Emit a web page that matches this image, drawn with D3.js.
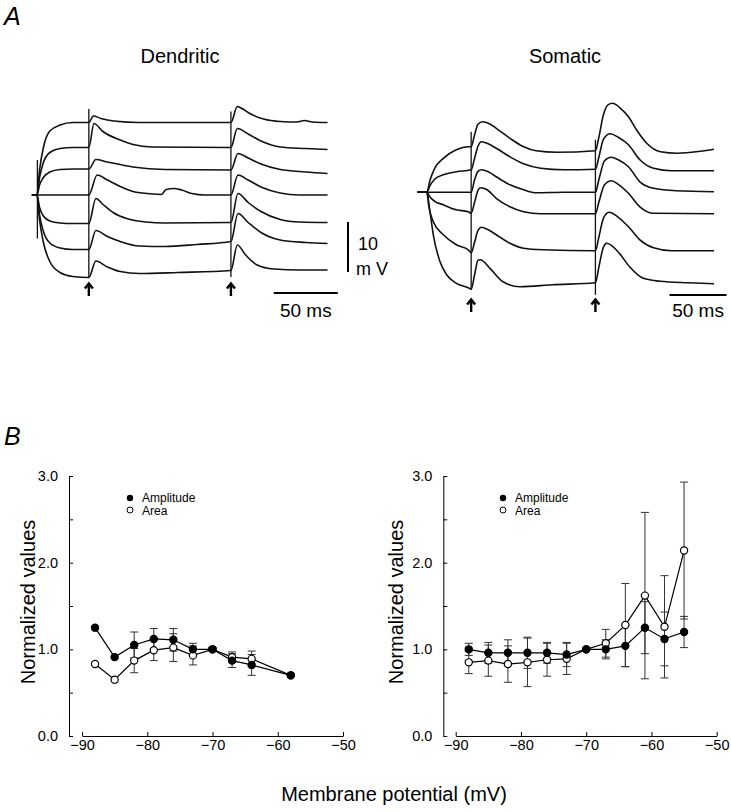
<!DOCTYPE html>
<html>
<head>
<meta charset="utf-8">
<script src="https://cdn.jsdelivr.net/npm/d3@7"></script>
<style>
  body { margin: 0; background: #fff; }
  svg { font-family: 'Liberation Sans', Arial, sans-serif; }
</style>
</head>
<body>
<div id="wrapper"></div>
<script>
// ---- panel A: traces, [time (ms) from pulse onset, mV from rest] ----
const dendriticTraces = [
  [[-4,0],[0,0],[2,5],[5,9.5],[10,12.8],[18,14],[28,14.5],[40.5,14.5],[44,15.8],[50,15.3],[60,14.8],[80,14.5],[110,14.5],[151.5,14.5],[156.5,17.7],[160,17.3],[167,16.2],[177,15.2],[190,14.7],[203,14.6],[209,14.9],[215,14.6],[227,14.5]],
  [[-4,0],[0,0],[2,3.5],[5,6.5],[10,8.5],[18,9.3],[28,9.5],[40.5,9.5],[44.5,14.3],[51.5,12.7],[65,11],[75,10.1],[90,9.6],[151.5,9.5],[156.5,13.3],[165,12.2],[175,10.8],[190,9.6],[210,9.3],[227,9.1]],
  [[-4,0],[0,0],[2,2],[5,3.5],[10,4.6],[18,5.1],[28,5.2],[40.5,5.2],[46,7.1],[55,6.6],[75,5.6],[100,5.1],[151.5,5.0],[157,8.3],[165,7.4],[175,6.2],[190,5.1],[210,4.6],[227,4.3]],
  [[-4,0],[0,0],[40.5,0],[47,4],[55,3],[65,1.7],[75,0.7],[90,0.2],[97,0.1],[101,1.1],[107,1.3],[113,1.0],[121,0.3],[131,0],[151.5,0],[157,4],[165,3],[175,1.6],[190,0.4],[205,0],[227,0]],
  [[-4,0],[0,0],[2,-2.5],[5,-4.2],[10,-5.2],[18,-5.6],[28,-5.7],[40.5,-5.7],[46,-0.7],[52,-2],[60,-3.6],[70,-4.7],[85,-5.4],[100,-5.6],[151.5,-5.5],[157,0.3],[165,-1.5],[175,-3.3],[190,-4.9],[205,-5.4],[227,-5.5]],
  [[-4,0],[0,0],[2,-4],[5,-7.3],[10,-9.6],[18,-10.6],[28,-10.9],[40.5,-10.9],[46,-7.1],[55,-8.3],[65,-9.3],[80,-10.2],[100,-10.3],[125,-9.9],[151.5,-9.3],[157,-3.7],[165,-5.5],[175,-7.5],[190,-9],[210,-9.5],[227,-9.7]],
  [[-4,0],[0,0],[2,-5],[5,-9.5],[10,-13.3],[18,-15.5],[28,-16.3],[40.5,-16.5],[46,-13.2],[55,-14.4],[65,-15.3],[80,-15.7],[110,-15.5],[151.5,-15.1],[156.5,-10],[163,-12],[172,-14],[185,-14.8],[205,-15],[227,-15]]
];

const somaticTraces = [
  [[-8,0],[0,0],[3,2.5],[7,4.8],[14.6,6.8],[26,8.5],[36.5,9.1],[39,9.1],[42,11.5],[45,13.6],[49,14.1],[55,13.7],[61,12.8],[73,10.8],[85,9.1],[96,8.3],[114,8.0],[148,8.3],[151,11],[155,15.5],[159,17.5],[163,17.8],[170,16.8],[177,15.1],[184,12.5],[193,9.8],[205,8.1],[220,7.8],[240,8.2],[252,8.6]],
  [[-8,0],[0,0],[3,1.4],[7,2.6],[14.6,3.5],[26,4.1],[39,4.5],[42,6.8],[45,9.2],[48,10.1],[54,9.7],[61,8.8],[73,7.1],[85,5.7],[100,4.8],[120,4.5],[148,4.6],[151,7],[155,10.6],[161,11.7],[168,11],[177,9.5],[187,6.5],[199,4.8],[215,4.3],[252,4.3]],
  [[-8,0],[0,0],[39,0],[42,2.5],[45,4.2],[48,4.5],[54,4.1],[61,3.1],[73,1.5],[85,0.5],[96,-0.1],[120,0],[148,0],[151,2.5],[156,6.3],[162,7],[168,6.5],[177,5.1],[187,2.1],[199,0.8],[219,0.3],[252,0.1]],
  [[-8,0],[0,0],[3,-1],[7,-1.8],[14.6,-2.5],[26,-3.5],[36.5,-3.9],[39,-4.2],[42,-2],[45,0.4],[47,0.9],[53,0.5],[61,-1.2],[73,-2.9],[85,-3.9],[100,-4.3],[148,-4.3],[151,-2],[156,1.5],[162,2.3],[168,1.6],[177,-0.2],[187,-2.9],[199,-4.2],[252,-4.3]],
  [[-8,0],[0,0],[2,-3],[5.8,-5.9],[14.6,-8.5],[26,-10.5],[36.5,-11.5],[39,-12.1],[42,-10],[45,-7.6],[48,-7],[54,-7.5],[61,-8.5],[73,-10.2],[85,-11.2],[102,-11.5],[148,-11.7],[151,-9],[155,-5.2],[160,-4],[167,-4.8],[177,-6.9],[187,-9.5],[199,-11.1],[215,-11.7],[252,-11.7]],
  [[-8,0],[0,0],[2.9,-3.9],[5.8,-8.5],[11.7,-13.9],[17.5,-16.5],[26,-18.2],[36.5,-19.1],[39,-19.4],[42,-16.5],[45,-13.6],[47,-13.5],[55.5,-15.2],[67,-17.9],[82,-18.9],[110,-18.5],[148,-18.1],[151,-15],[155,-11],[158,-10.2],[163,-10.8],[169,-12.2],[178,-14.9],[190,-17.2],[205,-17.8],[230,-18.1],[252,-18.3]]
];

// stimulus times (ms) and artifact extents [time, top mV, bottom mV]
const dendriticStims = [40.5, 151.5];
const somaticStims = [39, 148];
const dendriticArtifacts = [[0.3, 7, -8.7], [40.5, 17.2, -16.4], [151.5, 16.7, -16.4]];
const somaticArtifacts = [[39, 12.1, -19.5], [148, 10.5, -20.5]];

// ---- panel B: normalized values vs membrane potential ----
const dendriticPotential = [-88, -85, -82, -79, -76, -73, -70, -67, -64, -58];
const dendriticAmplitude = [1.25, 0.91, 1.05, 1.12, 1.11, 1.00, 1.00, 0.87, 0.82, 0.70];
const dendriticAmplitudeErr = [0, 0, 0.15, 0.12, 0.13, 0.07, 0.02, 0.08, 0.12, 0];
const dendriticArea = [0.83, 0.65, 0.87, 0.99, 1.02, 0.93, 1.00, 0.91, 0.89, 0.70];
const dendriticAreaErr = [0, 0, 0.14, 0.12, 0.16, 0.11, 0.02, 0.06, 0.09, 0];

const somaticPotential = [-88, -85, -82, -79, -76, -73, -70, -67, -64, -61, -58, -55];
const somaticAmplitude = [1.00, 0.96, 0.96, 0.96, 0.96, 0.94, 1.00, 1.00, 1.04, 1.25, 1.12, 1.20];
const somaticAmplitudeErr = [0.07, 0.12, 0.15, 0.18, 0.12, 0.14, 0, 0.11, 0.24, 0.30, 0.31, 0.18];
const somaticArea = [0.85, 0.87, 0.83, 0.85, 0.88, 0.89, 1.00, 1.07, 1.28, 1.62, 1.26, 2.14];
const somaticAreaErr = [0.13, 0.18, 0.21, 0.28, 0.19, 0.18, 0, 0.16, 0.48, 0.96, 0.59, 0.79];

const xTickValues = [-90, -80, -70, -60, -50];
const yTickValues = [0, 0.5, 1, 1.5, 2, 2.5, 3];

function drawFigure() {
  const svg = d3.select('#wrapper')
    .append('svg')
      .attr('width', 731)
      .attr('height', 812);

  // panel letters
  svg.append('text').attr('x', 4).attr('y', 25)
      .style('font-size', '25px').style('font-style', 'italic').text('A');
  svg.append('text').attr('x', 4).attr('y', 445)
      .style('font-size', '25px').style('font-style', 'italic').text('B');

  // ---------- traces ----------
  const dendX = d3.scaleLinear().domain([0, 50]).range([37, 101]);
  const dendY = d3.scaleLinear().domain([0, 10]).range([195, 145]);
  const somaX = d3.scaleLinear().domain([0, 50]).range([426.7, 483.7]);
  const somaY = d3.scaleLinear().domain([0, 10]).range([192.3, 142.3]);

  function drawTraces(title, titleX, traces, xScale, yScale, stims, artifacts, arrowY) {
    const g = svg.append('g');

    g.append('text')
        .attr('x', titleX).attr('y', 63)
        .attr('text-anchor', 'middle')
        .style('font-size', '20px')
        .text(title);

    const lineGen = d3.line()
        .x(d => xScale(d[0]))
        .y(d => yScale(d[1]))
        .curve(d3.curveMonotoneX);

    g.selectAll('path.trace')
      .data(traces)
      .join('path')
        .attr('class', 'trace')
        .attr('d', lineGen)
        .attr('fill', 'none')
        .attr('stroke', '#111')
        .attr('stroke-width', 1.6);

    g.selectAll('line.artifact')
      .data(artifacts)
      .join('line')
        .attr('class', 'artifact')
        .attr('x1', d => xScale(d[0])).attr('x2', d => xScale(d[0]))
        .attr('y1', d => yScale(d[1])).attr('y2', d => yScale(d[2]))
        .attr('stroke', '#111')
        .attr('stroke-width', 1.3);

    // arrows under stimulus times
    const arrows = g.selectAll('g.arrow')
      .data(stims)
      .join('g')
        .attr('class', 'arrow')
        .attr('transform', d => `translate(${xScale(d)},${arrowY})`);
    arrows.append('path')
        .attr('d', 'M0,1 L0,13 M-4,5.5 L0,0.5 L4,5.5')
        .attr('fill', 'none')
        .attr('stroke', '#000')
        .attr('stroke-width', 2.4);
  }

  drawTraces('Dendritic', 180, dendriticTraces, dendX, dendY,
    dendriticStims, dendriticArtifacts, 283);
  drawTraces('Somatic', 565, somaticTraces, somaX, somaY,
    somaticStims, somaticArtifacts, 299);

  // scale bars
  const vBarX = 348;
  svg.append('line')
      .attr('x1', vBarX).attr('x2', vBarX)
      .attr('y1', dendY(-5.4)).attr('y2', dendY(-15.4))
      .attr('stroke', '#000').attr('stroke-width', 2);
  svg.append('text').attr('x', 358).attr('y', 250)
      .style('font-size', '18px').text('10');
  svg.append('text').attr('x', 356).attr('y', 275)
      .style('font-size', '18px').text('m V');

  const dendBarStart = 185;
  svg.append('line')
      .attr('x1', dendX(dendBarStart)).attr('x2', dendX(dendBarStart + 50))
      .attr('y1', 293).attr('y2', 293)
      .attr('stroke', '#000').attr('stroke-width', 2);
  svg.append('text')
      .attr('x', (dendX(dendBarStart) + dendX(dendBarStart + 50)) / 2).attr('y', 317)
      .attr('text-anchor', 'middle')
      .style('font-size', '19px').text('50 ms');

  const somaBarStart = 213;
  svg.append('line')
      .attr('x1', somaX(somaBarStart)).attr('x2', somaX(somaBarStart + 50))
      .attr('y1', 295).attr('y2', 295)
      .attr('stroke', '#000').attr('stroke-width', 2);
  svg.append('text')
      .attr('x', (somaX(somaBarStart) + somaX(somaBarStart + 50)) / 2).attr('y', 317)
      .attr('text-anchor', 'middle')
      .style('font-size', '19px').text('50 ms');

  // ---------- summary plots ----------
  const yScale = d3.scaleLinear().domain([0, 3]).range([736, 476]);

  function drawSummary(axisX, x0, potential, amp, ampErr, area, areaErr, legendX, labelX) {
    const xScale = d3.scaleLinear().domain([-90, -50]).range([x0, x0 + 261]);
    const g = svg.append('g');

    const yAxisGenerator = d3.axisLeft(yScale)
        .tickValues(yTickValues)
        .tickSizeInner(-4)
        .tickSizeOuter(0)
        .tickPadding(11)
        .tickFormat(d => Number.isInteger(d) ? d.toFixed(1) : '');
    const yAxis = g.append('g')
        .attr('transform', `translate(${axisX},0)`)
        .call(yAxisGenerator);

    const xAxisGenerator = d3.axisBottom(xScale)
        .tickValues(xTickValues)
        .tickSizeInner(-4)
        .tickSizeOuter(0)
        .tickPadding(4);
    const xAxis = g.append('g')
        .attr('transform', 'translate(0,736)')
        .call(xAxisGenerator);

    [yAxis, xAxis].forEach(ax => {
      ax.selectAll('text')
          .style('font-size', '14.5px')
          .style('font-family', "'Liberation Sans', Arial, sans-serif")
          .attr('fill', '#000');
      ax.selectAll('line, path').attr('stroke', '#000');
    });

    g.append('text')
        .attr('transform', `translate(${labelX},602) rotate(-90)`)
        .attr('text-anchor', 'middle')
        .style('font-size', '20px')
        .text('Normalized values');

    const lineGen = vals => d3.line()
        .x((d, i) => xScale(potential[i]))
        .y(d => yScale(d))(vals);

    const series = [
      { vals: area, err: areaErr, fill: '#fff' },
      { vals: amp, err: ampErr, fill: '#000' }
    ];

    // error bars
    series.forEach(s => {
      const bars = g.append('g')
        .selectAll('g')
        .data(s.vals.map((v, i) => ({ x: potential[i], v, e: s.err[i] })).filter(d => d.e > 0))
        .join('g');
      bars.append('line')
          .attr('x1', d => xScale(d.x)).attr('x2', d => xScale(d.x))
          .attr('y1', d => yScale(d.v - d.e)).attr('y2', d => yScale(d.v + d.e))
          .attr('stroke', '#333').attr('stroke-width', 1);
      [-1, 1].forEach(sign => {
        bars.append('line')
            .attr('x1', d => xScale(d.x) - 4).attr('x2', d => xScale(d.x) + 4)
            .attr('y1', d => yScale(d.v + sign * d.e)).attr('y2', d => yScale(d.v + sign * d.e))
            .attr('stroke', '#333').attr('stroke-width', 1);
      });
    });

    series.forEach(s => {
      g.append('path')
          .attr('d', lineGen(s.vals))
          .attr('fill', 'none')
          .attr('stroke', '#000')
          .attr('stroke-width', 1.2);
    });

    series.forEach(s => {
      g.append('g')
        .selectAll('circle')
        .data(s.vals)
        .join('circle')
          .attr('cx', (d, i) => xScale(potential[i]))
          .attr('cy', d => yScale(d))
          .attr('r', 3.6)
          .attr('fill', s.fill)
          .attr('stroke', '#000')
          .attr('stroke-width', 1.2);
    });

    // legend
    const legend = g.append('g').attr('transform', `translate(${legendX},0)`);
    legend.append('circle').attr('cx', 0).attr('cy', 498).attr('r', 3.2)
        .attr('fill', '#000');
    legend.append('circle').attr('cx', 0).attr('cy', 510).attr('r', 3)
        .attr('fill', '#fff').attr('stroke', '#000').attr('stroke-width', 1);
    legend.append('text').attr('x', 12).attr('y', 502)
        .style('font-size', '12px').text('Amplitude');
    legend.append('text').attr('x', 12).attr('y', 514.5)
        .style('font-size', '12px').text('Area');
  }

  drawSummary(69, 82, dendriticPotential, dendriticAmplitude, dendriticAmplitudeErr,
    dendriticArea, dendriticAreaErr, 130, 35);
  drawSummary(443.3, 455.7, somaticPotential, somaticAmplitude, somaticAmplitudeErr,
    somaticArea, somaticAreaErr, 503, 403);

  svg.append('text')
      .attr('x', 394).attr('y', 801)
      .attr('text-anchor', 'middle')
      .style('font-size', '20px')
      .text('Membrane potential (mV)');
}

drawFigure();
</script>
</body>
</html>
